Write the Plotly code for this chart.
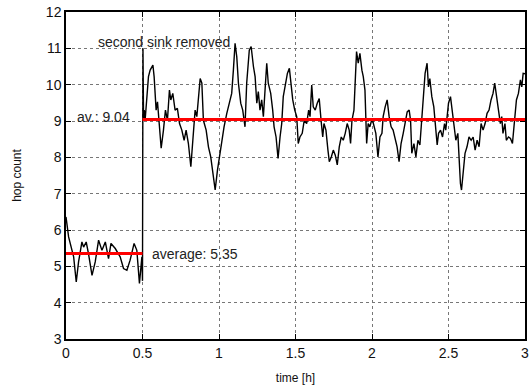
import plotly.graph_objects as go

# time [h] and hop count
time_h = [0.0, 0.017, 0.05, 0.067, 0.082, 0.104, 0.115, 0.132, 0.147, 0.17, 0.191, 0.213,
          0.235, 0.257, 0.278, 0.294, 0.322, 0.354, 0.376, 0.398, 0.419, 0.445, 0.463, 0.48,
          0.496, 0.5, 0.503, 0.507, 0.511, 0.518,
          0.539, 0.55, 0.568, 0.576, 0.589, 0.598, 0.611, 0.622, 0.637, 0.65, 0.663, 0.676,
          0.685, 0.698, 0.713, 0.728, 0.742, 0.757, 0.772, 0.785, 0.8, 0.816, 0.829, 0.844,
          0.855, 0.866, 0.877, 0.888, 0.898, 0.916, 0.931, 0.946, 0.96, 0.975, 0.99, 1.003,
          1.018, 1.033, 1.051, 1.068, 1.083, 1.094, 1.105, 1.116, 1.127, 1.142, 1.155, 1.17,
          1.181, 1.198, 1.21, 1.225, 1.236, 1.247, 1.257, 1.268, 1.279, 1.29, 1.301, 1.312,
          1.322, 1.338, 1.351, 1.36, 1.373, 1.386, 1.399, 1.41, 1.42, 1.433, 1.447, 1.46,
          1.469, 1.482, 1.495, 1.508, 1.518, 1.529, 1.544, 1.557, 1.573, 1.586, 1.595, 1.606,
          1.616, 1.629, 1.642, 1.655, 1.668, 1.678, 1.686, 1.699, 1.712, 1.721, 1.734, 1.747,
          1.76, 1.773, 1.786, 1.799, 1.812, 1.825, 1.838, 1.851, 1.86, 1.869, 1.882, 1.89,
          1.899, 1.91, 1.921, 1.934, 1.943, 1.954, 1.965, 1.975, 1.986, 2.001, 2.012, 2.025,
          2.039, 2.052, 2.065, 2.073, 2.086, 2.099, 2.112, 2.125, 2.138, 2.151, 2.164, 2.177,
          2.19, 2.204, 2.217, 2.23, 2.243, 2.252, 2.26, 2.274, 2.287, 2.3, 2.313, 2.326,
          2.334, 2.347, 2.36, 2.369, 2.378, 2.391, 2.404, 2.417, 2.426, 2.435, 2.448, 2.461,
          2.474, 2.482, 2.491, 2.5, 2.513, 2.526, 2.539, 2.548, 2.561, 2.569, 2.578, 2.585,
          2.595, 2.608, 2.621, 2.634, 2.648, 2.661, 2.674, 2.687, 2.7, 2.713, 2.726, 2.739,
          2.752, 2.765, 2.778, 2.791, 2.802, 2.813, 2.826, 2.839, 2.848, 2.856, 2.869, 2.878,
          2.892, 2.905, 2.918, 2.926, 2.935, 2.944, 2.957, 2.97, 2.979, 2.988, 3.0]
hop_count = [6.36, 5.81, 5.26, 4.57, 5.12, 5.67, 5.53, 5.67, 5.35, 4.75, 5.12, 5.72,
             5.44, 5.67, 5.21, 5.63, 5.49, 5.26, 4.94, 4.89, 5.17, 5.63, 5.44, 4.53,
             5.26, 4.6, 11.0, 9.0, 9.3, 9.07,
             10.22, 10.4, 10.54, 10.22, 9.3, 9.53, 8.75, 8.25, 8.75, 9.3, 9.02, 9.85,
             9.58, 9.76, 9.3, 9.35, 8.93, 8.75, 8.47, 8.75, 8.38, 7.74, 8.47, 9.3,
             9.12, 9.67, 10.17, 10.04, 9.02, 8.75, 8.29, 8.01, 7.56, 7.1, 7.65, 8.01,
             8.56, 8.84, 9.21, 9.53, 9.76, 10.4, 11.14, 10.77, 10.04, 9.49, 9.3, 8.84,
             10.04, 10.95, 11.05, 10.5, 10.22, 9.49, 9.81, 9.3, 9.58, 9.12, 10.04, 10.59,
             10.04, 9.76, 9.3, 8.84, 8.56, 7.97, 8.56, 8.93, 9.67, 10.04, 10.31, 10.45,
             10.13, 9.58, 9.3, 9.12, 8.38, 8.56, 8.66, 9.02, 8.93, 9.3, 9.12, 9.99,
             9.39, 9.3, 9.49, 9.62, 8.98, 8.56, 8.93, 8.75, 8.2, 7.88, 8.01, 8.2,
             8.06, 7.79, 8.29, 8.56, 8.47, 8.66, 8.93, 8.75, 8.38, 9.02, 9.3, 10.13,
             10.91, 10.59, 10.86, 10.4, 10.22, 9.85, 8.38, 8.93, 8.84, 9.07, 8.84, 8.66,
             8.01, 8.56, 8.66, 9.12, 9.39, 9.58, 9.12, 8.84, 8.75, 8.47, 8.29, 7.88,
             8.38, 8.66, 9.02, 9.25, 9.3, 9.02, 8.11, 8.38, 8.01, 8.47, 8.34, 9.21,
             9.76, 10.31, 10.59, 9.94, 10.17, 9.67, 9.39, 8.75, 8.34, 8.66, 8.75, 8.56,
             8.93, 8.75, 9.12, 9.49, 9.67, 9.21, 8.75, 8.47, 8.66, 7.83, 7.28, 7.1,
             7.65, 8.11, 8.29, 8.56, 8.47, 8.56, 8.2, 8.47, 8.29, 8.93, 8.75, 8.93,
             9.21, 9.3, 9.58, 9.76, 10.04, 9.67, 9.3, 8.93, 9.12, 8.66, 8.93, 8.47,
             8.56, 8.52, 8.38, 8.75, 9.21, 9.58, 9.76, 10.13, 9.94, 10.31, 10.3]

avg_before_x = [0.0, 0.5]
avg_before_y = [5.35, 5.35]
avg_after_x = [0.5, 3.0]
avg_after_y = [9.04, 9.04]

x_ticks = [0, 0.5, 1, 1.5, 2, 2.5, 3]
x_ticklabels = ["0", "0.5", "1", "1.5", "2", "2.5", "3"]
y_ticks = [3, 4, 5, 6, 7, 8, 9, 10, 11, 12]

font = "Liberation Sans, Arial, sans-serif"

fig = go.Figure()
fig.add_trace(go.Scatter(x=time_h, y=hop_count, mode="lines",
                         line=dict(color="black", width=1.4), showlegend=False))
fig.add_trace(go.Scatter(x=avg_before_x, y=avg_before_y, mode="lines",
                         line=dict(color="#ff0000", width=3), showlegend=False))
fig.add_trace(go.Scatter(x=avg_after_x, y=avg_after_y, mode="lines",
                         line=dict(color="#ff0000", width=3), showlegend=False))

fig.add_annotation(x=0.642, y=11.18, text="second sink removed", showarrow=False,
                   xanchor="center", yanchor="middle", font=dict(size=14, color="#222"))
fig.add_annotation(x=0.43, y=9.1, text="av.: 9.04", showarrow=False,
                   xanchor="right", yanchor="middle", font=dict(size=14, color="#222"))
fig.add_annotation(x=0.55, y=5.35, text="average: 5.35", showarrow=False,
                   xanchor="left", yanchor="middle", font=dict(size=14, color="#222"))

axis_common = dict(showline=True, linecolor="black", linewidth=1.5, mirror="allticks",
                   ticks="inside", ticklen=5, tickcolor="black", showgrid=True,
                   gridcolor="#777", griddash="dot", gridwidth=1, zeroline=False,
                   automargin=False, ticklabeloverflow="allow",
                   tickfont=dict(size=14, color="#111", family=font))

fig.update_xaxes(range=[0, 3], tickvals=x_ticks, ticktext=x_ticklabels,
                 title=dict(text="time [h]", font=dict(size=12, color="#111"), standoff=14),
                 **axis_common)
fig.update_yaxes(range=[3, 12], tickvals=y_ticks,
                 title=dict(text="hop count", font=dict(size=12, color="#111"), standoff=22),
                 **axis_common)

fig.update_layout(width=529, height=387, margin=dict(l=66, r=4, t=12, b=48),
                  plot_bgcolor="white", paper_bgcolor="white",
                  font=dict(family=font, color="#111"))

fig.write_html("out.html")
